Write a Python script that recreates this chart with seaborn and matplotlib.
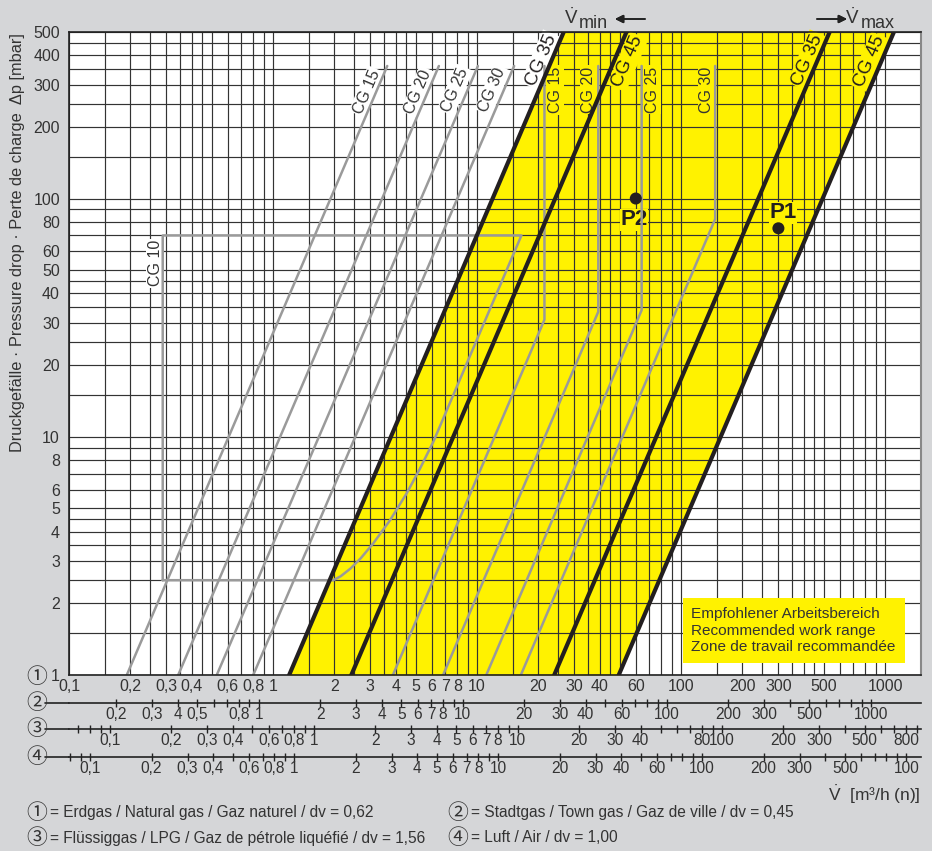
import numpy as np
import seaborn as sns
import matplotlib.pyplot as plt
from matplotlib.patches import Rectangle
from matplotlib.lines import Line2D
from matplotlib.ticker import NullFormatter, NullLocator

# ---- Werte ----
# schwarze Grenzlinien: V bei dp = 1 und dp = 500 mbar
dp_full = [1, 500]
cg35_min = [1.2, 26.6]
cg45_min = [2.42, 54.0]
cg35_max = [23.9, 535]
cg45_max = [49.5, 1105]

# graue Kennlinien links (untere Grenze), dp = 1 ... 360 mbar
dp_low = [1, 360]
cg15_low = [0.192, 3.63]
cg20_low = [0.343, 6.5]
cg25_low = [0.53, 10.1]
cg30_low = [0.80, 15.2]

# graue Kennlinien rechts (obere Grenze)
cg15_high_v = [3.87, 21.4, 21.4]
cg15_high_dp = [1, 31, 360]
cg20_high_v = [6.82, 39.3, 39.3]
cg20_high_dp = [1, 33.5, 360]
cg25_high_v = [11.1, 64.1, 64.1]
cg25_high_dp = [1, 34, 360]
cg30_high_v = [16.4, 147, 147]
cg30_high_dp = [1, 82, 360]

# CG 10 Feld
cg10_v = [0.288, 0.288, 16.5, 6.11, 5.26, 4.52, 3.75, 3.10, 2.7, 2.4, 2.15, 1.975, 0.288]
cg10_dp = [2.5, 70, 70, 9.54, 7.37, 5.79, 4.47, 3.57, 3.1, 2.8, 2.6, 2.5, 2.5]

# Betriebspunkte
pts_v = [300, 60]
pts_dp = [75, 100]
pts_names = ['P1', 'P2']

# Achsen
x_ticks = [0.1, 0.2, 0.3, 0.4, 0.6, 0.8, 1, 2, 3, 4, 5, 6, 7, 8, 10, 20, 30, 40, 60,
           100, 200, 300, 500, 1000]
x_labels = ['0,1', '0,2', '0,3', '0,4', '0,6', '0,8', '1', '2', '3', '4', '5', '6', '7',
            '8', '10', '20', '30', '40', '60', '100', '200', '300', '500', '1000']
y_ticks = [1, 2, 3, 4, 5, 6, 8, 10, 20, 30, 40, 50, 60, 80, 100, 200, 300, 400, 500]
grid_steps = [1, 1.5, 2, 2.5, 3, 3.5, 4, 4.5, 5, 6, 7, 8, 9]
decades = [0.01, 0.1, 1, 10, 100, 1000]

# Gasarten (Dichteverhältnis dv)
dv_natural = 0.62
dv_town = 0.45
dv_lpg = 1.56
dv_air = 1.00

town_labels = {0.2: '0,2', 0.3: '0,3', 0.4: '4', 0.5: '0,5', 0.8: '0,8', 1: '1', 2: '2',
               3: '3', 4: '4', 5: '5', 6: '6', 7: '7', 8: '8', 10: '10', 20: '20',
               30: '30', 40: '40', 60: '60', 100: '100', 200: '200', 300: '300',
               500: '500', 1000: '1000'}
lpg_labels = {0.1: '0,1', 0.2: '0,2', 0.3: '0,3', 0.4: '0,4', 0.6: '0,6', 0.8: '0,8',
              1: '1', 2: '2', 3: '3', 4: '4', 5: '5', 6: '6', 7: '7', 8: '8', 10: '10',
              20: '20', 30: '30', 40: '40', 80: '80', 100: '100', 200: '200',
              300: '300', 500: '500', 800: '800'}
air_labels = {0.1: '0,1', 0.2: '0,2', 0.3: '0,3', 0.4: '0,4', 0.6: '0,6', 0.8: '0,8',
              1: '1', 2: '2', 3: '3', 4: '4', 5: '5', 6: '6', 7: '7', 8: '8', 10: '10',
              20: '20', 30: '30', 40: '40', 60: '60', 100: '100', 200: '200',
              300: '300', 500: '500', 1000: '100'}

# ---- Stil ----
sns.set_style('white')
plt.rcParams['font.family'] = ['Liberation Sans', 'Noto Sans CJK JP', 'DejaVu Sans']
plt.rcParams['mathtext.fontset'] = 'custom'
plt.rcParams['mathtext.rm'] = 'Liberation Sans'
plt.rcParams['mathtext.it'] = 'Liberation Sans'

BG = '#d5d6d8'
YEL = '#fff200'
GREY = '#9a9a9a'
BLACK = '#231f20'
TXT = '#333333'

W, H = 932, 851
fx = lambda px: px / W
fy = lambda py: 1 - py / H

fig = plt.figure(figsize=(9.32, 8.51), dpi=100, facecolor=BG)
ax = fig.add_axes([69 / W, 176 / H, 852 / W, 643 / H])
ax.set_facecolor('white')
ax.set_xscale('log')
ax.set_yscale('log')
ax.set_xlim(0.1, 1500)
ax.set_ylim(1, 500)

# Raster
grid_x = [m * d for d in decades for m in grid_steps if 0.1 <= m * d <= 1500]
grid_y = [m * d for d in decades for m in grid_steps if 1 <= m * d <= 500]
ax.set_xticks(x_ticks, x_labels)
ax.set_xticks(grid_x, minor=True)
ax.set_yticks(y_ticks, [str(v) for v in y_ticks])
ax.set_yticks(grid_y, minor=True)
ax.xaxis.set_minor_formatter(NullFormatter())
ax.yaxis.set_minor_formatter(NullFormatter())
ax.grid(True, which='both', color='#333333', lw=0.85, zorder=0.5)
ax.tick_params(which='minor', length=0)
ax.tick_params(axis='x', which='major', length=0, pad=3, labelsize=11.5, labelcolor=TXT)
ax.tick_params(axis='y', which='major', length=3, width=1, color='#222', pad=3.5,
               labelsize=11.5, labelcolor=TXT)
for s in ['left', 'bottom', 'top']:
    ax.spines[s].set_color('#222')
    ax.spines[s].set_linewidth(1.2)
ax.spines['right'].set_color('#888')
ax.spines['right'].set_linewidth(1.5)

# Arbeitsbereich
ax.fill_betweenx(dp_full, cg35_min, cg45_max, color=YEL, lw=0, zorder=0.2)

# graue Kennlinien
for v in [cg15_low, cg20_low, cg25_low, cg30_low]:
    sns.lineplot(x=v, y=dp_low, ax=ax, color=GREY, lw=1.8, sort=False, estimator=None)
for v, d in [(cg15_high_v, cg15_high_dp), (cg20_high_v, cg20_high_dp),
             (cg25_high_v, cg25_high_dp), (cg30_high_v, cg30_high_dp)]:
    sns.lineplot(x=v, y=d, ax=ax, color=GREY, lw=1.8, sort=False, estimator=None)
sns.lineplot(x=cg10_v, y=cg10_dp, ax=ax, color=GREY, lw=1.8, sort=False, estimator=None)

# schwarze Grenzlinien
for v in [cg35_min, cg45_min, cg35_max, cg45_max]:
    sns.lineplot(x=v, y=dp_full, ax=ax, color=BLACK, lw=3, sort=False, estimator=None,
                 zorder=3)

sns.scatterplot(x=pts_v, y=pts_dp, ax=ax, color=BLACK, s=75, edgecolor='none', zorder=4)
ax.set_xlabel('')
ax.set_ylabel('')


def angle(v, d):
    p0 = ax.transData.transform((v[0], d[0]))
    p1 = ax.transData.transform((v[-1], d[-1]))
    return np.degrees(np.arctan2(p1[1] - p0[1], p1[0] - p0[0]))


def label(x, y, s, rot, fc, size=11.5, color=TXT):
    ax.text(x, y, s, rotation=rot, ha='center', va='center', fontsize=size, color=color,
            rotation_mode='anchor', zorder=1.8,
            bbox=dict(facecolor=fc, edgecolor='none', pad=1.2))


a_low = angle(cg15_low, dp_low)
for (x, y), s in zip([(2.88, 281), (5.16, 281), (7.8, 286), (11.9, 286)],
                     ['CG 15', 'CG 20', 'CG 25', 'CG 30']):
    label(x, y, s, a_low, 'white')
for (x, y), s in zip([(24.2, 286), (35.3, 286), (72.1, 286), (133.7, 286)],
                     ['CG 15', 'CG 20', 'CG 25', 'CG 30']):
    label(x, y, s, 90, YEL)
label(0.264, 53.5, 'CG 10', 90, 'white')

a_blk = angle(cg35_min, dp_full)
label(20.6, 382, 'CG 35', a_blk, 'white', 13.5, BLACK)
label(54.8, 375, 'CG 45', a_blk, YEL, 13.5, BLACK)
label(418, 382, 'CG 35', a_blk, YEL, 13.5, BLACK)
label(838, 375, 'CG 45', a_blk, YEL, 13.5, BLACK)

for (x, y), s in zip([(316, 87), (58.8, 81.5)], pts_names):
    ax.text(x, y, s, ha='center', va='center', fontsize=16, fontweight='bold',
            color=BLACK, zorder=1.8, bbox=dict(facecolor=YEL, edgecolor='none', pad=0.5))

# Empfehlungsfeld
ax.add_patch(Rectangle((0.721, 0.0191), 0.2602, 0.1002, transform=ax.transAxes,
                       facecolor=YEL, edgecolor='none', zorder=2.5))
ax.text(0.7305, 0.0692, 'Empfohlener Arbeitsbereich\nRecommended work range\n'
        'Zone de travail recommandée', transform=ax.transAxes, ha='left', va='center',
        fontsize=11.1, color=TXT, linespacing=1.22, zorder=2.6)

# weitere Gas-Skalen
scales = [(dv_town, town_labels, -0.0431, 702.7),
          (dv_lpg, lpg_labels, -0.0844, 729.3),
          (dv_air, air_labels, -0.1271, 756.7)]
for dv, labs, loc, ypx in scales:
    k = np.sqrt(dv_natural / dv)
    sec = ax.secondary_xaxis(loc, functions=(lambda x, k=k: x * k, lambda x, k=k: x / k))
    ticks = [m * d for d in decades for m in range(1, 10)
             if 0.1 * k <= m * d <= 1500 * k]
    sec.set_xticks(ticks, [labs.get(round(t, 6), '') for t in ticks])
    sec.xaxis.set_minor_locator(NullLocator())
    sec.tick_params(axis='x', direction='inout', length=6, width=1, color='#222', pad=0,
                    labelsize=11.2, labelcolor=TXT)
    sec.spines['bottom'].set_color('#222')
    sec.spines['bottom'].set_linewidth(1.2)
    fig.add_artist(Line2D([fx(45), fx(69)], [fy(ypx), fy(ypx)], transform=fig.transFigure,
                          color='#222', lw=1.2))

for s, ypx in zip(['①', '②', '③', '④'], [677, 703, 729.5, 757]):
    fig.text(fx(37), fy(ypx), s, ha='center', va='center', fontsize=15, color=TXT)

# Beschriftungen
fig.text(fx(18), fy(33), 'Druckgefälle · Pressure drop · Perte de charge  Δp [mbar]',
         rotation=90, ha='center', va='top', fontsize=11.8, color=TXT)
fig.text(fx(921), fy(795), r'$\dot{\mathrm{V}}$  [m³/h (n)]', ha='right', va='center',
         fontsize=12.5, color=TXT)

fig.text(fx(564), fy(24), r'$\dot{\mathrm{V}}$', ha='left', va='baseline', fontsize=13.5,
         color=TXT)
fig.text(fx(579), fy(28), 'min', ha='left', va='baseline', fontsize=13, color=TXT)
fig.text(fx(845), fy(24), r'$\dot{\mathrm{V}}$', ha='left', va='baseline', fontsize=13.5,
         color=TXT)
fig.text(fx(861), fy(28), 'max', ha='left', va='baseline', fontsize=13, color=TXT)
arrow = dict(arrowstyle='-|>', color='#222', lw=1.2, mutation_scale=12,
             shrinkA=0, shrinkB=0)
fig.add_artist(plt.annotate('', xy=(fx(615), fy(19)), xytext=(fx(645), fy(19)),
                            xycoords='figure fraction', arrowprops=arrow))
fig.add_artist(plt.annotate('', xy=(fx(847), fy(19)), xytext=(fx(817), fy(19)),
                            xycoords='figure fraction', arrowprops=arrow))

legend_rows = [('①', '= Erdgas / Natural gas / Gaz naturel / dv = 0,62', 37, 813),
               ('②', '= Stadtgas / Town gas / Gaz de ville / dv = 0,45', 458, 813),
               ('③', '= Flüssiggas / LPG / Gaz de pétrole liquéfié / dv = 1,56', 37, 838),
               ('④', '= Luft / Air / dv = 1,00', 458, 838)]
for c, t, xpx, ypx in legend_rows:
    fig.text(fx(xpx), fy(ypx), c, ha='center', va='center', fontsize=15, color=TXT)
    fig.text(fx(xpx + 13), fy(ypx), t, ha='left', va='center', fontsize=11.2, color=TXT)

fig.savefig('out.png', dpi=100, facecolor=BG)
